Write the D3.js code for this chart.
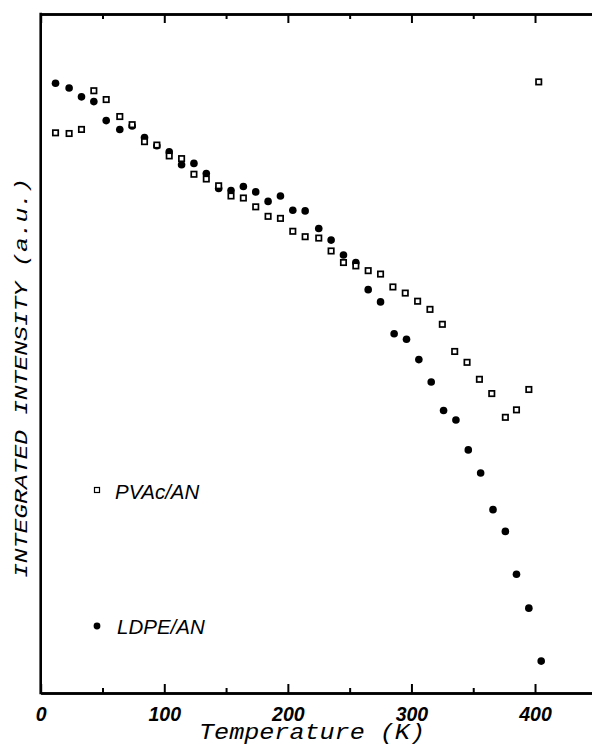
<!DOCTYPE html>
<html>
<head>
<meta charset="utf-8">
<script src="https://cdn.jsdelivr.net/npm/d3@7"></script>
<style>
  body { margin: 0; background: #fff; }
  svg { display: block; }
</style>
</head>
<body>
<svg id="chart" width="592" height="745"></svg>
<script>
// values (intensity in arbitrary units)
const ldpeTemp = [12, 23, 33, 43, 53, 64, 74, 84, 94, 104, 114, 124, 134, 144, 154, 164, 174, 184, 194, 204,
                  214, 225, 235, 245, 255, 265, 275, 286, 296, 306, 316, 326, 336, 346, 356, 366, 376, 385, 395, 405];
const ldpeIntensity = [89.8, 89.1, 87.8, 87.1, 84.3, 83.0, 83.5, 81.8, 80.6, 79.7, 77.8, 78.0, 76.5, 74.3, 74.0, 74.6, 73.8, 72.4, 73.2, 71.1,
                       71.0, 68.4, 66.7, 64.5, 63.4, 59.4, 57.6, 52.9, 52.1, 49.1, 45.8, 41.6, 40.2, 35.8, 32.4, 27.0, 23.8, 17.5, 12.5, 4.7];

const pvacTemp = [12, 23, 33, 43, 53, 64, 74, 84, 94, 104, 114, 124, 134, 144, 154, 164, 174, 184, 194, 204,
                  214, 225, 235, 245, 255, 265, 275, 285, 295, 305, 315, 325, 335, 345, 355, 365, 376, 385, 395, 403];
const pvacIntensity = [82.5, 82.4, 83.0, 88.7, 87.4, 84.9, 83.7, 81.2, 80.7, 79.1, 78.7, 76.4, 75.7, 74.7, 73.2, 72.9, 71.6, 70.2, 69.9, 68.0,
                       67.2, 67.0, 65.1, 63.4, 62.9, 62.2, 61.7, 59.8, 58.9, 57.7, 56.5, 54.3, 50.3, 48.7, 46.2, 44.1, 40.6, 41.7, 44.7, 90.0];

const majorTicks = [0, 100, 200, 300, 400];
const minorTicks = [50, 150, 250, 350, 450];

const ldpe = ldpeTemp.map((t, i) => ({ t, v: ldpeIntensity[i] }));
const pvac = pvacTemp.map((t, i) => ({ t, v: pvacIntensity[i] }));

const svg = d3.select("#chart");
const plotTop = 14, plotBottom = 693, plotLeft = 40.7;

const x = d3.scaleLinear().domain([0, 450]).range([plotLeft, plotLeft + 450 * 1.2358]);
const y = d3.scaleLinear().domain([0, 100]).range([plotBottom, plotTop]);

const tickFont = "'Liberation Sans', Arial, sans-serif";
const monoFont = "'Courier New', Courier, 'Liberation Mono', monospace";

// bottom axis, major ticks with labels
const bottomMajor = svg.append("g")
    .attr("transform", `translate(0,${plotBottom})`)
    .call(d3.axisBottom(x).tickValues(majorTicks).tickSizeInner(-9).tickSizeOuter(0).tickPadding(14.5).tickFormat(d3.format("d")));
bottomMajor.selectAll("text")
    .attr("font-family", tickFont)
    .attr("font-size", 19.5)
    .attr("font-weight", "bold")
    .attr("font-style", "italic")
    .attr("fill", "#000");

// bottom minor ticks
svg.append("g")
    .attr("transform", `translate(0,${plotBottom})`)
    .call(d3.axisBottom(x).tickValues(minorTicks).tickSizeInner(-5).tickSizeOuter(0).tickFormat(""));

// top axis ticks
svg.append("g")
    .attr("transform", `translate(0,${plotTop})`)
    .call(d3.axisTop(x).tickValues(majorTicks).tickSizeInner(-9).tickSizeOuter(0).tickFormat(""));
svg.append("g")
    .attr("transform", `translate(0,${plotTop})`)
    .call(d3.axisTop(x).tickValues(minorTicks).tickSizeInner(-5).tickSizeOuter(0).tickFormat(""));

svg.selectAll(".domain").attr("stroke-width", 2.6).attr("stroke", "#000");
svg.selectAll(".tick line").attr("stroke-width", 2).attr("stroke", "#000");

// left frame line
svg.append("line")
    .attr("x1", x(0)).attr("x2", x(0))
    .attr("y1", plotTop - 1.3).attr("y2", plotBottom + 1.3)
    .attr("stroke", "#000")
    .attr("stroke-width", 2.6);

// data
svg.append("g")
    .selectAll("circle")
    .data(ldpe)
    .join("circle")
    .attr("cx", d => x(d.t))
    .attr("cy", d => y(d.v))
    .attr("r", 3.8)
    .attr("fill", "#000");

const sq = 5.4;
svg.append("g")
    .selectAll("rect")
    .data(pvac)
    .join("rect")
    .attr("x", d => x(d.t) - sq / 2)
    .attr("y", d => y(d.v) - sq / 2)
    .attr("width", sq)
    .attr("height", sq)
    .attr("fill", "#fff")
    .attr("stroke", "#000")
    .attr("stroke-width", 1.7);

// legend
svg.append("rect")
    .attr("x", 94.5).attr("y", 487.5)
    .attr("width", 5).attr("height", 5)
    .attr("fill", "#fff")
    .attr("stroke", "#000")
    .attr("stroke-width", 1.2);
svg.append("text")
    .attr("x", 115).attr("y", 499)
    .attr("font-family", tickFont)
    .attr("font-size", 20.5)
    .attr("font-style", "italic")
    .text("PVAc/AN");

svg.append("circle")
    .attr("cx", 97).attr("cy", 626)
    .attr("r", 3.4)
    .attr("fill", "#000");
svg.append("text")
    .attr("x", 117).attr("y", 634)
    .attr("font-family", tickFont)
    .attr("font-size", 20.5)
    .attr("font-style", "italic")
    .text("LDPE/AN");

// axis titles
svg.append("text")
    .attr("x", 199).attr("y", 739)
    .attr("font-family", monoFont)
    .attr("font-size", 22)
    .attr("font-style", "italic")
    .attr("textLength", 226)
    .attr("lengthAdjust", "spacingAndGlyphs")
    .text("Temperature (K)");

svg.append("text")
    .attr("transform", "translate(27,578) rotate(-90)")
    .attr("font-family", monoFont)
    .attr("font-size", 19)
    .attr("font-style", "italic")
    .attr("textLength", 400)
    .attr("lengthAdjust", "spacingAndGlyphs")
    .text("INTEGRATED INTENSITY (a.u.)");
</script>
</body>
</html>
